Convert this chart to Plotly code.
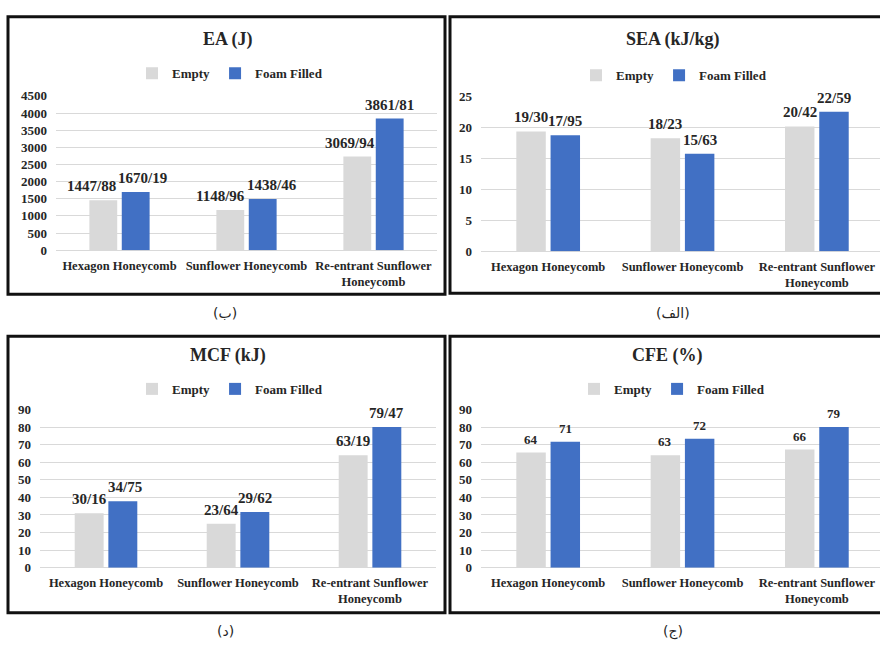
import plotly.graph_objects as go

W, H = 880, 647

# ---------------- data ----------------
categories = ["Hexagon Honeycomb", "Sunflower Honeycomb", "Re-entrant Sunflower<br>Honeycomb"]
series_names = ["Empty", "Foam Filled"]

ea_empty = [1460, 1170, 2730]
ea_foam = [1700, 1490, 3840]
ea_empty_labels = ["1447/88", "1148/96", "3069/94"]
ea_foam_labels = ["1670/19", "1438/46", "3861/81"]
ea_ticks = [0, 500, 1000, 1500, 2000, 2500, 3000, 3500, 4000, 4500]

sea_empty = [19.4, 18.3, 20.2]
sea_foam = [18.8, 15.8, 22.6]
sea_empty_labels = ["19/30", "18/23", "20/42"]
sea_foam_labels = ["17/95", "15/63", "22/59"]
sea_ticks = [0, 5, 10, 15, 20, 25]

mcf_empty = [31, 25, 64]
mcf_foam = [37.8, 31.7, 80]
mcf_empty_labels = ["30/16", "23/64", "63/19"]
mcf_foam_labels = ["34/75", "29/62", "79/47"]
mcf_ticks = [0, 10, 20, 30, 40, 50, 60, 70, 80, 90]

cfe_empty = [65.5, 64, 67.2]
cfe_foam = [71.7, 73.3, 80]
cfe_empty_labels = ["64", "63", "66"]
cfe_foam_labels = ["71", "72", "79"]
cfe_ticks = [0, 10, 20, 30, 40, 50, 60, 70, 80, 90]

titles = ["EA (J)", "SEA (kJ/kg)", "MCF (kJ)", "CFE (%)"]
captions = ["(ب)", "(الف)", "(د)", "(ج)"]

# ---------------- style ----------------
GRAY = "#D9D9D9"
BLUE = "#4170C4"
TXT = "#262626"
FONT = "Liberation Serif"
BARGAP = 0.49
SLOT = (1 - BARGAP) / 4  # centre offset of each bar within a group

def px(x):
    return x / W

def py(y):
    return 1 - y / H

panels = [
    dict(empty=ea_empty, foam=ea_foam, el=ea_empty_labels, fl=ea_foam_labels, ticks=ea_ticks,
         xd=(56, 437), yd=(91, 249), xr=[-0.5, 2.5],
         title_xy=(228, 33), legend_xy=(230, 68), box=(8, 10, 445, 294), cap_xy=(225, 313),
         nudge_e=[-0.09, -0.08, -0.06], nudge_f=[0.055, 0.07, 0.0], lsize=15),
    dict(empty=sea_empty, foam=sea_foam, el=sea_empty_labels, fl=sea_foam_labels, ticks=sea_ticks,
         xd=(481, 880), yd=(92, 250), xr=[-0.5, 2.47],
         title_xy=(673, 33), legend_xy=(674, 70), box=(450, 10, 890, 293), cap_xy=(673, 313),
         nudge_e=[0, 0, 0], nudge_f=[0, 0, 0], lsize=15),
    dict(empty=mcf_empty, foam=mcf_foam, el=mcf_empty_labels, fl=mcf_foam_labels, ticks=mcf_ticks,
         xd=(40, 436), yd=(412, 574), xr=[-0.5, 2.5],
         title_xy=(228, 357), legend_xy=(230, 391), box=(8, 337, 445, 620), cap_xy=(225, 639),
         nudge_e=[0, 0, 0], nudge_f=[0.02, 0, 0], lsize=15),
    dict(empty=cfe_empty, foam=cfe_foam, el=cfe_empty_labels, fl=cfe_foam_labels, ticks=cfe_ticks,
         xd=(481, 880), yd=(412, 574), xr=[-0.5, 2.47],
         title_xy=(667, 357), legend_xy=(672, 391), box=(450, 337, 890, 620), cap_xy=(673, 639),
         nudge_e=[0, 0, 0], nudge_f=[0, 0, 0], lsize=13),
]

fig = go.Figure()
annotations = []
shapes = []
layout = {}

for k, p in enumerate(panels):
    n = "" if k == 0 else str(k + 1)
    xa, ya = "x" + n, "y" + n
    leg = "legend" + n
    for name, vals, color in [(series_names[0], p["empty"], GRAY), (series_names[1], p["foam"], BLUE)]:
        fig.add_trace(go.Bar(
            x=categories, y=vals, name=name, marker=dict(color=color, line=dict(width=0)),
            xaxis=xa, yaxis=ya, legend=leg, hoverinfo="skip",
        ))
    layout["xaxis" + n] = dict(
        domain=[px(p["xd"][0]), px(p["xd"][1])], anchor=ya, type="category", range=p["xr"],
        showgrid=False, showline=False, zeroline=False, ticks="", ticklabelstandoff=6,
        tickfont=dict(family=FONT, size=12.5, color=TXT, weight="bold"),
        tickvals=categories, ticktext=categories,
    )
    layout["yaxis" + n] = dict(
        domain=[py(p["yd"][1]), py(p["yd"][0])], anchor=xa, range=[0, p["ticks"][-1]],
        tickvals=p["ticks"], showgrid=True, gridcolor="#D9D9D9", gridwidth=1,
        zeroline=True, zerolinecolor="#D9D9D9", zerolinewidth=1, showline=False, ticks="",
        ticklabelstandoff=8,
        tickfont=dict(family=FONT, size=13, color=TXT, weight="bold"),
    )
    layout[leg] = dict(
        orientation="h", x=px(p["legend_xy"][0]), y=py(p["legend_xy"][1]),
        xanchor="center", yanchor="middle", bgcolor="rgba(0,0,0,0)",
        font=dict(family=FONT, size=13, color=TXT, weight="bold"),
        itemwidth=30, tracegroupgap=0,
    )
    # data labels
    for sign, vals, labs, nud in [(-1, p["empty"], p["el"], p["nudge_e"]), (1, p["foam"], p["fl"], p["nudge_f"])]:
        for i, (v, t) in enumerate(zip(vals, labs)):
            annotations.append(dict(
                x=i + sign * SLOT + nud[i], y=v, xref=xa, yref=ya, text=t, showarrow=False,
                yanchor="bottom", xanchor="center", yshift=4,
                font=dict(family=FONT, size=p["lsize"], color=TXT, weight="bold"),
            ))
    # title
    annotations.append(dict(
        x=px(p["title_xy"][0]), y=py(p["title_xy"][1]), xref="paper", yref="paper",
        text=titles[k], showarrow=False, xanchor="center", yanchor="middle",
        font=dict(family=FONT, size=18, color=TXT, weight="bold"),
    ))
    # caption
    annotations.append(dict(
        x=px(p["cap_xy"][0]), y=py(p["cap_xy"][1]), xref="paper", yref="paper",
        text=captions[k], showarrow=False, xanchor="center", yanchor="middle",
        font=dict(family="DejaVu Sans", size=14, color=TXT),
    ))
    x0, y0, x1, y1 = p["box"]
    shapes.append(dict(type="rect", xref="paper", yref="paper",
                       x0=px(x0), x1=px(x1), y0=py(y1), y1=py(y0),
                       line=dict(color="#111111", width=3), fillcolor="rgba(0,0,0,0)", layer="above"))

fig.update_layout(
    width=W, height=H, margin=dict(l=0, r=0, t=0, b=0),
    paper_bgcolor="white", plot_bgcolor="white",
    barmode="group", bargap=BARGAP, bargroupgap=0.14,
    annotations=annotations, shapes=shapes, showlegend=True,
    **layout,
)

fig.write_html(
    "out.html",
    config={"displayModeBar": False},
    post_script="document.body.style.margin='0';document.body.style.overflow='hidden';",
)
